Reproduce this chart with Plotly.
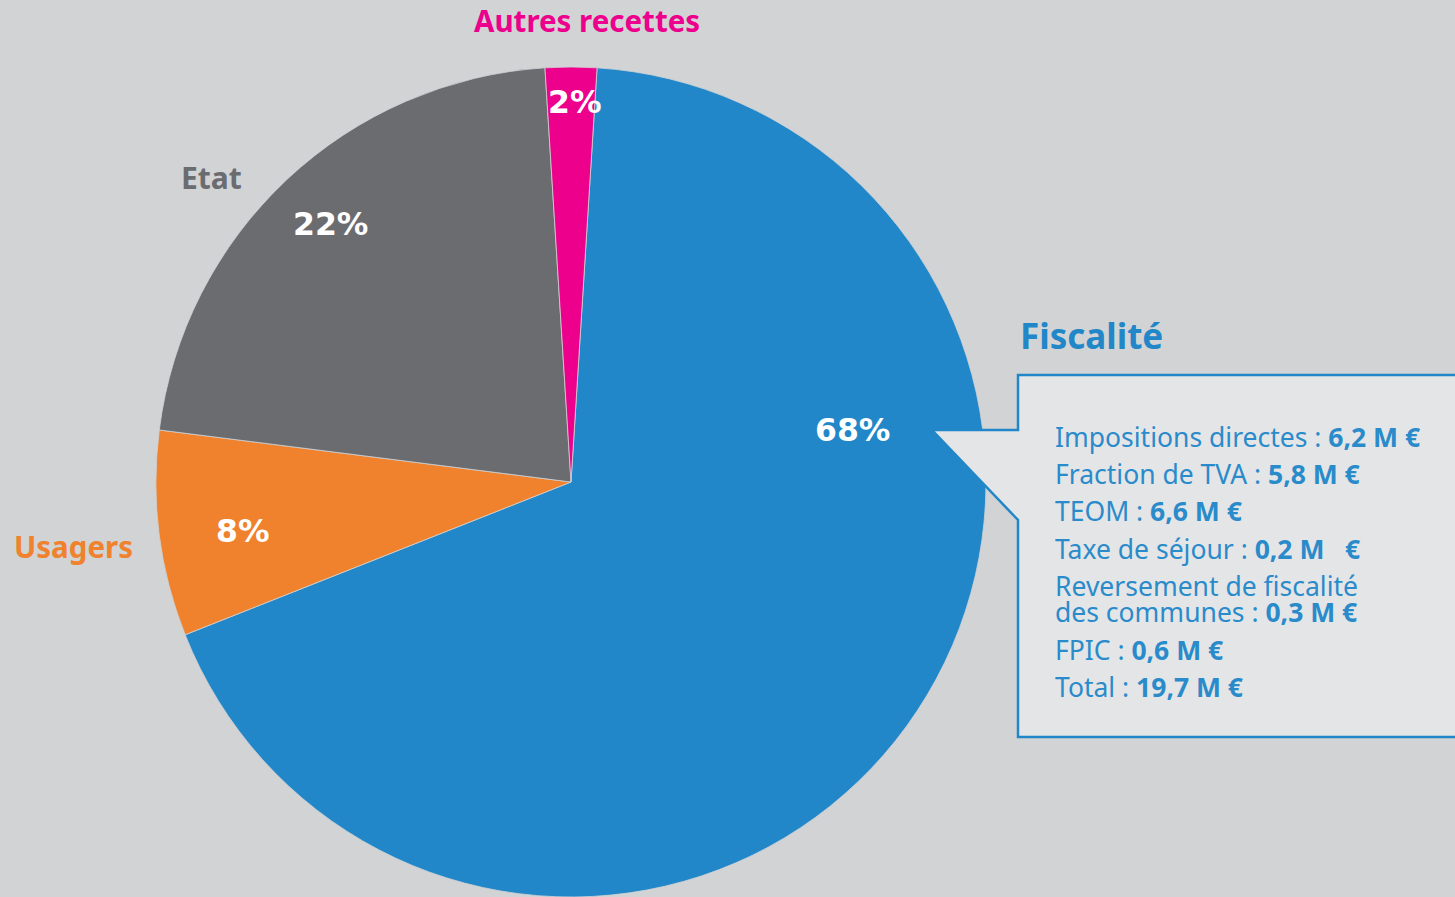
import plotly.graph_objects as go

# Répartition des recettes de fonctionnement
categories = ["Fiscalité", "Usagers", "Etat", "Autres recettes"]
parts = [68, 8, 22, 2]
colors = ["#2287c8", "#f0822d", "#6b6c70", "#ec008c"]

# Détail de la fiscalité (libellé, montant en M €)
detail_labels = ["Impositions directes", "Fraction de TVA", "TEOM", "Taxe de séjour",
                 "Reversement de fiscalité<br>des communes", "FPIC", "Total"]
detail_values = ["6,2", "5,8", "6,6", "0,2", "0,3", "0,6", "19,7"]

W, H = 1455, 897
BG = "#d1d3d5"
BOX = "#e4e5e7"


def px(x):
    return x / W


def py(y):
    return 1 - y / H


fig = go.Figure(go.Pie(
    labels=categories,
    values=parts,
    marker=dict(colors=colors, line=dict(color=BG, width=0.8)),
    sort=False,
    direction="clockwise",
    rotation=3.6,
    textinfo="none",
    hoverinfo="label+percent",
    showlegend=False,
    domain=dict(x=[px(571 - 415), px(571 + 415)], y=[0, py(67)]),
))

annotations = []

# Pourcentages dans les parts
pct_pos = [(852, 430), (243, 531), (330, 224), (574, 102)]
for v, (x, y) in zip(parts, pct_pos):
    annotations.append(dict(
        x=px(x), y=py(y), xref="paper", yref="paper", showarrow=False,
        text=f"<b>{v}%</b>", xanchor="center", yanchor="middle",
        font=dict(family="DejaVu Sans", size=31.5, color="white"),
    ))

# Noms des catégories
name_pos = [(1091, 335, 35), (73, 546, 29.5), (211, 178, 30), (587, 21, 29.5)]
for name, col, (x, y, s) in zip(categories, colors, name_pos):
    annotations.append(dict(
        x=px(x), y=py(y), xref="paper", yref="paper", showarrow=False,
        text=f"<b>{name}</b>", xanchor="center", yanchor="middle",
        font=dict(family="Noto Sans", size=s, color=col),
    ))

# Encadré de détail : une annotation par ligne de texte
line_y = [[437], [474], [511], [549], [586, 612], [650], [687]]
spaces = ["", "", "", "  ", "", "", ""]
for lab, val, ys, sp in zip(detail_labels, detail_values, line_y, spaces):
    rows = lab.split("<br>")
    for k, (row, y) in enumerate(zip(rows, ys)):
        last = k == len(rows) - 1
        txt = f"{row} : <b>{val} M {sp}€</b>" if last else row
        annotations.append(dict(
            x=px(1053), y=py(y), xref="paper", yref="paper", showarrow=False,
            text=txt, xanchor="left", yanchor="middle", align="left",
            font=dict(family="Noto Sans", size=26.5, color="#2a8bcb"),
        ))

callout = (f"M {px(1018)},{py(375)} L {px(1480)},{py(375)} L {px(1480)},{py(737)} "
           f"L {px(1018)},{py(737)} L {px(1018)},{py(520)} L {px(932)},{py(430)} "
           f"L {px(1018)},{py(430)} Z")

fig.update_layout(
    width=W, height=H,
    margin=dict(l=0, r=0, t=0, b=0),
    paper_bgcolor=BG, plot_bgcolor=BG,
    shapes=[dict(type="path", path=callout, xref="paper", yref="paper",
                 fillcolor=BOX, line=dict(color="#2287c8", width=2.5), layer="above")],
    annotations=annotations,
)

fig.write_html("out.html")
